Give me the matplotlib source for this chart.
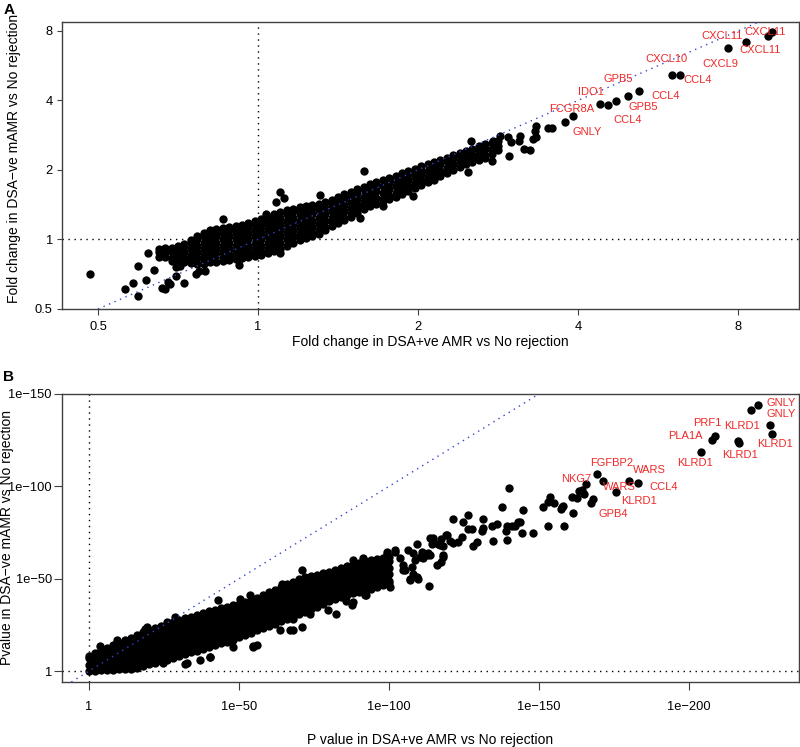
import numpy as np
import matplotlib
matplotlib.use("Agg")
import matplotlib.pyplot as plt

plt.rcParams['font.family'] = ['Liberation Sans', 'DejaVu Sans']

# ---------------- Panel A: log2 fold changes ----------------
# dense band, read column by column (x = log2 FC AMR, rows = log2 FC mAMR)
a_cols = [-0.62, -0.58, -0.54, -0.50, -0.46, -0.42, -0.38, -0.34, -0.30, -0.26,
          -0.22, -0.18, -0.14, -0.10, -0.06, -0.02, 0.02, 0.06, 0.10, 0.14,
          0.18, 0.22, 0.26, 0.30, 0.34, 0.38, 0.42, 0.46, 0.50, 0.54,
          0.58, 0.62, 0.66, 0.70, 0.74, 0.78, 0.82, 0.86, 0.90, 0.94,
          0.98, 1.02, 1.06, 1.10, 1.14, 1.18, 1.22, 1.26, 1.30, 1.34,
          1.38, 1.42, 1.46, 1.50]
a_rows = [
    [-0.25, -0.18, -0.14],
    [-0.25, -0.185, -0.12],
    [-0.31, -0.27, -0.18, -0.12],
    [-0.34, -0.28, -0.225, -0.135, -0.10],
    [-0.33, -0.27, -0.18, -0.09, -0.06],
    [-0.34, -0.28, -0.225, -0.135, -0.045, -0.01],
    [-0.35, -0.27, -0.18, -0.09, 0.0, 0.05],
    [-0.35, -0.29, -0.225, -0.135, -0.045, 0.045, 0.10],
    [-0.33, -0.27, -0.18, -0.09, 0.0, 0.09, 0.13],
    [-0.32, -0.225, -0.135, -0.045, 0.045, 0.10, 0.15],
    [-0.31, -0.27, -0.18, -0.09, 0.0, 0.09, 0.16],
    [-0.30, -0.225, -0.135, -0.045, 0.045, 0.135, 0.18],
    [-0.28, -0.23, -0.18, -0.09, 0.0, 0.09, 0.15, 0.20],
    [-0.26, -0.225, -0.135, -0.045, 0.045, 0.135, 0.21],
    [-0.25, -0.18, -0.09, 0.0, 0.09, 0.18, 0.24],
    [-0.24, -0.19, -0.135, -0.045, 0.045, 0.135, 0.225, 0.26],
    [-0.22, -0.18, -0.09, 0.0, 0.09, 0.18, 0.235, 0.29],
    [-0.20, -0.135, -0.045, 0.045, 0.135, 0.225, 0.28, 0.33],
    [-0.17, -0.09, 0.0, 0.09, 0.18, 0.27, 0.32, 0.37],
    [-0.14, -0.045, 0.045, 0.135, 0.225, 0.315, 0.39],
    [-0.10, 0.0, 0.09, 0.18, 0.27, 0.36, 0.42],
    [-0.05, 0.045, 0.135, 0.225, 0.315, 0.405, 0.44],
    [-0.01, 0.04, 0.09, 0.18, 0.27, 0.36, 0.41, 0.46],
    [0.02, 0.08, 0.135, 0.225, 0.315, 0.405, 0.48],
    [0.05, 0.09, 0.18, 0.27, 0.36, 0.45, 0.49],
    [0.08, 0.135, 0.225, 0.315, 0.405, 0.46, 0.51],
    [0.14, 0.18, 0.27, 0.36, 0.45, 0.54],
    [0.20, 0.26, 0.315, 0.405, 0.495, 0.57],
    [0.24, 0.27, 0.36, 0.45, 0.54, 0.61],
    [0.28, 0.315, 0.405, 0.495, 0.585, 0.65],
    [0.33, 0.36, 0.45, 0.54, 0.63, 0.68],
    [0.38, 0.44, 0.495, 0.585, 0.675, 0.72],
    [0.44, 0.49, 0.54, 0.63, 0.72, 0.76],
    [0.48, 0.53, 0.585, 0.675, 0.765, 0.80],
    [0.51, 0.60, 0.69, 0.77, 0.83],
    [0.55, 0.585, 0.675, 0.765, 0.86],
    [0.58, 0.63, 0.72, 0.81, 0.89],
    [0.61, 0.675, 0.765, 0.855, 0.92],
    [0.65, 0.72, 0.81, 0.90, 0.95],
    [0.69, 0.765, 0.855, 0.945, 0.98],
    [0.74, 0.81, 0.90, 0.96, 1.01],
    [0.78, 0.855, 0.945, 1.00, 1.05],
    [0.82, 0.90, 0.99, 1.08],
    [0.86, 0.945, 1.035, 1.12],
    [0.91, 0.99, 1.08, 1.14],
    [0.96, 1.035, 1.125, 1.17],
    [1.00, 1.08, 1.17, 1.21],
    [1.04, 1.125, 1.215, 1.24],
    [1.08, 1.17, 1.22, 1.27],
    [1.11, 1.16, 1.215, 1.30],
    [1.14, 1.19, 1.24, 1.29, 1.34],
    [1.17, 1.215, 1.305, 1.37],
    [1.23, 1.30, 1.39],
    [1.29, 1.35, 1.41],
]
# scattered genes outside the band (log2 AMR, log2 mAMR)
a_extra = [(-1.05, -0.50), (-0.83, -0.71), (-0.78, -0.63), (-0.75, -0.38), (-0.75, -0.82),
           (-0.70, -0.58), (-0.69, -0.19), (-0.65, -0.44), (-0.60, -0.70), (-0.58, -0.71),
           (-0.56, -0.61), (-0.55, -0.64), (-0.51, -0.53), (-0.51, -0.39), (-0.49, -0.38),
           (-0.46, -0.62), (-0.37, -0.46), (-0.33, -0.46), (-0.39, -0.50), (-0.12, -0.37),
           (-0.22, 0.29), (0.14, 0.68), (0.16, 0.60), (0.11, 0.54), (0.05, 0.37),
           (0.14, -0.19), (0.39, 0.64), (0.66, 0.98), (0.78, 0.48), (0.86, 0.62),
           (0.97, 0.63), (0.64, 0.31), (1.31, 0.97), (1.33, 1.41), (1.56, 1.47),
           (1.58, 1.40), (1.64, 1.49), (1.63, 1.42), (1.70, 1.28), (1.66, 1.30),
           (1.57, 1.20), (1.73, 1.56), (1.74, 1.63), (1.74, 1.47), (1.72, 1.45),
           (1.51, 1.49), (1.47, 1.42), (1.46, 1.13), (1.84, 1.61), (1.81, 1.61)]
# top genes
a_top_x = [3.21, 3.19, 3.05, 2.94, 2.64, 2.59, 2.38, 2.31, 2.24, 2.19, 2.14, 1.97, 1.92]
a_top_y = [2.99, 2.93, 2.84, 2.76, 2.36, 2.36, 2.14, 2.07, 1.99, 1.93, 1.95, 1.77, 1.69]
a_names = ['CXCL11', 'CXCL11', 'CXCL11', 'CXCL10', 'CXCL9', 'CCL4', 'GPB5',
           'IDO1', 'CCL4', 'GPB5', 'FCGR8A', 'CCL4', 'GNLY']
a_name_x = [3.17, 2.90, 3.14, 2.55, 2.89, 2.75, 2.25, 2.08, 2.55, 2.41, 1.96, 2.31, 2.06]
a_name_y = [2.98, 2.92, 2.73, 2.59, 2.53, 2.29, 2.31, 2.12, 2.07, 1.90, 1.87, 1.72, 1.55]

# ---------------- Panel B: -log10 P values ----------------
b_cols = list(range(0, 101, 2))
b_rows = [
    [0, 3.5, 7, 8.0],
    [0.2, 1.75, 5.25, 8.75, 9.7],
    [0.4, 3.5, 7, 10.5, 11.3],
    [0.6, 1.75, 5.25, 8.75, 10.7, 12.6],
    [0.7, 3.5, 7, 10.5, 13.9],
    [0.9, 3.0, 5.25, 8.75, 12.25, 15.3],
    [1.1, 3.5, 7, 10.5, 14, 16.7],
    [1.3, 3.3, 5.25, 8.75, 12.25, 15.75, 18.1],
    [1.9, 3.5, 7, 10.5, 14, 17.5, 19.5],
    [2.7, 5.25, 8.75, 12.25, 15.75, 19.25, 21.0],
    [3.6, 7, 10.5, 14, 17.5, 21, 22.3],
    [4.4, 6.5, 8.75, 12.25, 15.75, 19.25, 21.3, 23.4],
    [5.3, 7, 10.5, 14, 17.5, 21, 24.5],
    [6.2, 8.75, 12.25, 15.75, 19.25, 22.75, 25.6],
    [7.2, 10.5, 14, 17.5, 21, 24.5, 26.6],
    [8.2, 10.2, 12.25, 15.75, 19.25, 22.75, 26.25, 27.6],
    [9.1, 10.5, 14, 17.5, 21, 24.5, 26.5, 28.6],
    [10.1, 12.25, 15.75, 19.25, 22.75, 26.25, 29.5],
    [11.1, 14, 17.5, 21, 24.5, 28, 30.5],
    [12.1, 15.75, 19.25, 22.75, 26.25, 29.75, 31.4],
    [13.1, 15.3, 17.5, 21, 24.5, 28, 30.1, 32.3],
    [14.0, 15.75, 19.25, 22.75, 26.25, 29.75, 33.1],
    [15.0, 17.5, 21, 24.5, 28, 31.5, 34.0],
    [16.0, 19.25, 22.75, 26.25, 29.75, 33.25, 34.8],
    [17.0, 19.0, 21, 24.5, 28, 31.5, 33.6, 35.7],
    [18.2, 19.25, 22.75, 26.25, 29.75, 33.25, 36.5],
    [19.5, 21, 24.5, 28, 31.5, 35, 37.4],
    [20.7, 22.75, 26.25, 29.75, 33.25, 36.75, 38.3],
    [22.0, 24.5, 28, 31.5, 35, 38.5, 39.8],
    [23.2, 26.25, 29.75, 33.25, 36.75, 40.25, 41.2],
    [24.4, 28, 31.5, 35, 38.5, 40.6, 42.7],
    [25.7, 27.7, 29.75, 33.25, 36.75, 40.25, 42.2, 44.1],
    [27.0, 29.2, 31.5, 35, 38.5, 42, 45.5],
    [28.2, 29.75, 33.25, 36.75, 40.25, 43.75, 47.0],
    [29.5, 31.5, 35, 38.5, 42, 45.5, 48.4],
    [30.8, 33.25, 36.75, 40.25, 43.75, 47.25, 49.8],
    [32.0, 35, 38.5, 42, 45.5, 49, 51.0],
    [33.4, 36.75, 40.25, 43.75, 47.25, 49.4, 51.5],
    [34.9, 38.5, 42, 45.5, 49, 52.2],
    [36.3, 38.3, 40.25, 43.75, 47.25, 50.75, 53.0],
    [37.7, 39.8, 42, 45.5, 49, 52.5, 53.7],
    [39.1, 40.25, 43.75, 47.25, 50.75, 54.6],
    [40.2, 42, 45.5, 49, 52.5, 55.7],
    [41.2, 43.75, 47.25, 50.75, 54.25, 56.9],
    [42.1, 45.5, 49, 52.5, 56, 58.0],
    [43.0, 45.1, 47.25, 50.75, 54.25, 57.75, 58.7],
    [43.9, 45.5, 49, 52.5, 56, 59.4],
    [44.6, 47.25, 50.75, 54.25, 57.75, 60.0],
    [45.5, 49, 52.5, 56, 59.5, 60.7],
    [46.5, 48.6, 50.75, 54.25, 57.75, 61.4],
    [47.5, 49, 52.5, 56, 59.5, 62.0],
]
b_extra = [(223.1, 143.9), (220.7, 141.4), (227.0, 133.3), (227.8, 128.4), (208.7, 127.4),
           (207.8, 125.2), (216.4, 124.7), (216.7, 123.6), (204.0, 118.6),
           (169.2, 106.7), (171.4, 103.1), (180.1, 102.7), (183.0, 101.8), (175.7, 96.8),
           (165.6, 101.1), (164.2, 98.1), (163.3, 97.7), (165.0, 95.9), (160.9, 94.4),
           (162.6, 93.5), (168.1, 93.2), (167.3, 91.0), (140.1, 99.1), (153.7, 94.4),
           (153.1, 91.4), (155.0, 90.8), (151.4, 88.7), (157.8, 88.7), (158.1, 89.6),
           (157.3, 88.0), (144.6, 87.4), (137.6, 88.7), (161.2, 85.4), (152.9, 78.8),
           (158.3, 78.4), (148.1, 74.5), (144.3, 74.6), (142.9, 80.6), (142.0, 78.8),
           (140.9, 78.3), (139.2, 78.4), (138.9, 75.7), (139.2, 70.7), (134.8, 70.3),
           (135.9, 79.7), (134.2, 78.4), (131.4, 82.2), (126.4, 84.7), (124.6, 80.6),
           (121.4, 82.4), (127.6, 76.8), (126.4, 76.8), (131.4, 77.5), (130.9, 76.1),
           (129.4, 69.8), (127.9, 67.5), (124.2, 72.5), (123.1, 69.8), (121.4, 69.2),
           (120.3, 70.3), (119.2, 73.4), (117.2, 71.6), (114.8, 72.2), (114.2, 68.9),
           (117.9, 62.6), (117.2, 59.0), (115.9, 57.7), (118.1, 67.5), (116.4, 68.9),
           (113.4, 45.9), (109.2, 68.9), (110.9, 64.4), (112.6, 62.6), (110.3, 61.7),
           (108.1, 63.8), (106.4, 65.3), (109.8, 50.0), (107.0, 50.0), (108.1, 52.3),
           (105.3, 54.5), (104.8, 57.2), (113.7, 62.6), (113.1, 63.8), (143.7, 80.8),
           (119.0, 73.8), (89.2, 57.2), (91.3, 61.0), (94.7, 54.5), (99.2, 64.4),
           (102.0, 65.3), (103.7, 61.0), (104.7, 54.5), (107.6, 56.3), (108.7, 59.9),
           (111.3, 61.0), (113.7, 71.8), (114.7, 69.8), (117.0, 68.0), (118.0, 61.7),
           (109.2, 50.9), (107.0, 49.1), (100.3, 45.5), (99.2, 48.2), (95.9, 50.0),
           (93.7, 46.4), (92.0, 41.0), (88.1, 37.4), (63.7, 22.1), (68.1, 22.1),
           (70.9, 23.9), (73.7, 31.1), (82.3, 30.8), (87.6, 35.6), (92.3, 41.0),
           (85.7, 37.8), (79.6, 32.9), (32.0, 3.8), (40.3, 7.7), (37.0, 5.9),
           (47.9, 12.8), (54.6, 13.5), (24.8, 4.2), (54.8, 13.1), (55.9, 14.0),
           (40.3, 7.4), (32.6, 4.2), (67.0, 22.1), (68.1, 28.4), (70.9, 54.5),
           (64.2, 47.3), (43.1, 38.3), (19.2, 23.9), (9.2, 16.7), (3.7, 13.5),
           (88.1, 59.9), (99.2, 63.5), (102.0, 64.4), (18.7, 23.0), (25.9, 26.6),
           (28.7, 29.3), (50.3, 39.2), (53.7, 41.0)]
b_names = ['GNLY', 'GNLY', 'PRF1', 'KLRD1', 'PLA1A', 'KLRD1', 'KLRD1', 'KLRD1',
           'FGFBP2', 'WARS', 'NKG7', 'WARS', 'CCL4', 'KLRD1', 'GPB4']
b_name_x = [230.9, 230.9, 206.1, 217.8, 198.7, 228.7, 217.0, 202.0,
            174.4, 186.9, 162.3, 176.7, 191.4, 183.3, 174.6]
b_name_y = [145.0, 139.1, 134.2, 132.4, 127.4, 122.9, 117.1, 112.6,
            112.6, 109.0, 104.0, 99.5, 99.5, 92.3, 85.1]


def expand(cols, rows):
    xs = [c for c, r in zip(cols, rows) for _ in r]
    ys = [v for r in rows for v in r]
    return xs, ys


fig = plt.figure(figsize=(8, 7.47), dpi=100)
ax_a = fig.add_axes([0.0775, 0.5864, 0.9213, 0.3842])
ax_b = fig.add_axes([0.0775, 0.0870, 0.9213, 0.3856])

dot = dict(s=36, c='black', linewidths=0, zorder=3)
dotted = (0, (1, 3.3))
frame = '#404040'
red = '#f02828'

# ---- A ----
ax, ay = expand(a_cols, a_rows)
ex = np.array(a_extra)
lx = np.concatenate([ax, ex[:, 0], a_top_x])
ly = np.concatenate([ay, ex[:, 1], a_top_y])

ax_a.set_xscale('log', base=2)
ax_a.set_yscale('log', base=2)
ax_a.axvline(1, color='black', ls=dotted, lw=1.0, zorder=1)
ax_a.axhline(1, color='black', ls=dotted, lw=1.0, zorder=1)
ax_a.scatter(2.0 ** lx, 2.0 ** ly, **dot)
ax_a.axline((1, 1), (2, 2), color='#3344cc', ls=dotted, lw=1.0, zorder=4)
for name, tx, ty in zip(a_names, a_name_x, a_name_y):
    ax_a.text(2.0 ** tx, 2.0 ** ty, name, color=red, fontsize=8,
              ha='center', va='center', zorder=5)
ax_a.set_xlim(2.0 ** -1.225, 2.0 ** 3.381)
ax_a.set_ylim(2.0 ** -0.971, 2.0 ** 3.129)
ticks = [0.5, 1, 2, 4, 8]
ax_a.set_xticks(ticks, ['0.5', '1', '2', '4', '8'])
ax_a.set_yticks(ticks, ['0.5', '1', '2', '4', '8'])
ax_a.minorticks_off()
ax_a.tick_params(axis='x', length=4, width=0.8, color=frame, pad=4.5, labelsize=9.3)
ax_a.tick_params(axis='y', length=3.6, width=0.8, color=frame, pad=3, labelsize=9.3)
ax_a.set_xlabel('Fold change in DSA+ve AMR vs No rejection', fontsize=10, va='center')
ax_a.xaxis.set_label_coords(0.5, -0.115)
ax_a.set_ylabel('Fold change in DSA\u2212ve mAMR vs No rejection', fontsize=10, va='center')
ax_a.yaxis.set_label_coords(-0.065, 0.525)

# ---- B ----
bx, by = expand(b_cols, b_rows)
ex = np.array(b_extra)
px = np.concatenate([bx, ex[:, 0]])
py = np.concatenate([by, ex[:, 1]])

ax_b.axvline(0, color='black', ls=dotted, lw=1.0, zorder=1)
ax_b.axhline(0, color='black', ls=dotted, lw=1.0, zorder=1)
ax_b.scatter(px, py, **dot)
ax_b.axline((0, 0), (1, 1), color='#3344cc', ls=dotted, lw=1.0, zorder=4)
for name, tx, ty in zip(b_names, b_name_x, b_name_y):
    ax_b.text(tx, ty, name, color=red, fontsize=8, ha='center', va='center', zorder=5)
ax_b.set_xlim(-9.0, 236.7)
ax_b.set_ylim(-5.9, 149.5)
ax_b.set_xticks([0, 50, 100, 150, 200],
                ['1', '1e\u221250', '1e\u2212100', '1e\u2212150', '1e\u2212200'])
ax_b.set_yticks([0, 50, 100, 150], ['1', '1e\u221250', '1e\u2212100', '1e\u2212150'])
ax_b.tick_params(axis='x', length=5.8, width=0.8, color=frame, pad=8, labelsize=9.3)
ax_b.tick_params(axis='y', length=5.8, width=0.8, color=frame, pad=1.5, labelsize=9.3)
ax_b.set_xlabel('P value in DSA+ve AMR vs No rejection', fontsize=10, va='center')
ax_b.xaxis.set_label_coords(0.5, -0.2)
ax_b.set_ylabel('Pvalue in DSA\u2212ve mAMR vs No rejection', fontsize=10, va='center')
ax_b.yaxis.set_label_coords(-0.075, 0.5)

for a in (ax_a, ax_b):
    for sp in a.spines.values():
        sp.set_color(frame)
        sp.set_linewidth(1.0)

fig.text(0.004, 1 - 10 / 747, 'A', fontsize=11, fontweight='bold', va='center')
fig.text(0.004, 1 - 377 / 747, 'B', fontsize=11, fontweight='bold', va='center')

fig.savefig('out.png', dpi=100)
